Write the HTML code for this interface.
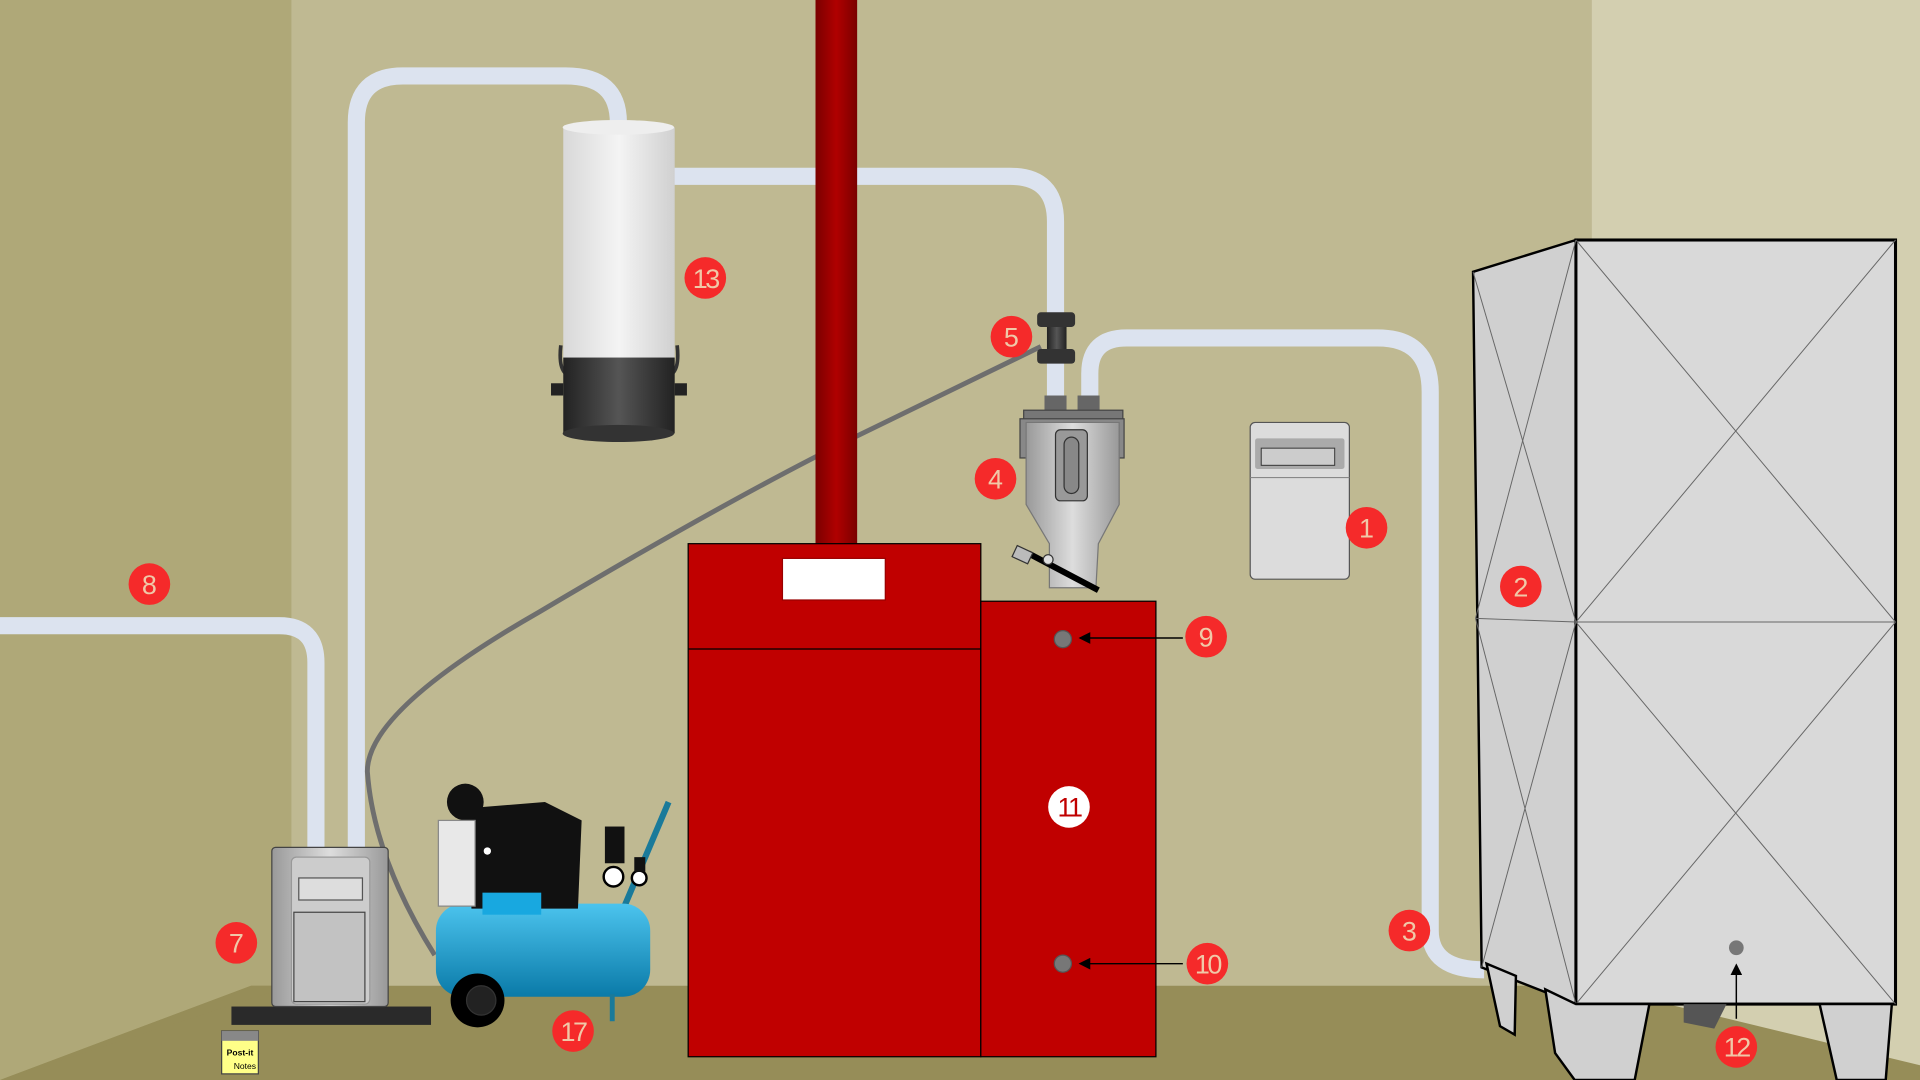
<!DOCTYPE html>
<html><head><meta charset="utf-8"><style>
html,body{margin:0;padding:0;width:1920px;height:1080px;overflow:hidden;background:#bfb992}
svg{display:block}
text{font-family:"Liberation Sans",sans-serif}
</style></head><body>
<svg width="1920" height="1080" viewBox="0 0 1568 882" xmlns="http://www.w3.org/2000/svg">
<defs>
<linearGradient id="chim" x1="0" x2="1"><stop offset="0" stop-color="#7a0000"/><stop offset=".5" stop-color="#b00000"/><stop offset="1" stop-color="#7a0000"/></linearGradient>
<linearGradient id="cyl" x1="0" x2="1"><stop offset="0" stop-color="#d8d8d8"/><stop offset=".5" stop-color="#f4f4f4"/><stop offset="1" stop-color="#d0d0d0"/></linearGradient>
<linearGradient id="blk" x1="0" x2="1"><stop offset="0" stop-color="#222"/><stop offset=".5" stop-color="#555"/><stop offset="1" stop-color="#222"/></linearGradient>
<linearGradient id="met" x1="0" x2="1"><stop offset="0" stop-color="#999"/><stop offset=".5" stop-color="#ddd"/><stop offset="1" stop-color="#999"/></linearGradient>
<linearGradient id="tank" x1="0" y1="0" x2="0" y2="1"><stop offset="0" stop-color="#4cc4ee"/><stop offset="1" stop-color="#0a7aa8"/></linearGradient>
<marker id="ar" markerWidth="8" markerHeight="8" refX="7" refY="4" orient="auto"><path d="M0,0 L8,4 L0,8z" fill="#000"/></marker>
</defs>
<!-- walls -->
<rect width="1568" height="882" fill="#bfb992"/>
<rect x="0" y="0" width="238" height="882" fill="#afa878"/>
<rect x="1300" y="0" width="268" height="882" fill="#d3cfb0"/>
<polygon points="0,882 205,805 1300,805 1568,870 1568,882" fill="#968d58"/>
<polygon points="0,882 0,882 205,805 238,805" fill="#968d58"/>
<!-- pipes -->
<g fill="none" stroke="#dce3ef" stroke-width="14">
<path d="M0,511 H228 Q258,511 258,541 V692"/>
<path d="M291,692 V100 Q291,62 329,62 H462 Q505,62 505,100"/>
<path d="M550,144 H825 Q862,144 862,181 V330"/>
<path d="M890,330 V305 Q890,276 920,276 H1125 Q1168,276 1168,320 V760 Q1168,792 1212,792"/>
</g>
<!-- gray cable -->
<path d="M850,283 L700,356 Q600,405 440,500 Q300,580 300,630 Q305,700 355,780" fill="none" stroke="#6e6e6e" stroke-width="4"/>
<!-- chimney -->
<rect x="666" y="0" width="34" height="446" fill="url(#chim)"/>
<!-- boiler -->
<rect x="562" y="444" width="239" height="419" fill="#c00000" stroke="#000" stroke-width="1"/>
<line x1="562" y1="530" x2="801" y2="530" stroke="#000"/>
<rect x="639" y="456" width="84" height="34" fill="#fff" stroke="#900"/>
<rect x="801" y="491" width="143" height="372" fill="#c00000" stroke="#000" stroke-width="1"/>
<circle cx="868" cy="522" r="7" fill="#777" stroke="#555"/>
<circle cx="868" cy="787" r="7" fill="#777" stroke="#555"/>
<line x1="966" y1="521" x2="882" y2="521" stroke="#000" stroke-width="1.2" marker-end="url(#ar)"/>
<line x1="966" y1="787" x2="882" y2="787" stroke="#000" stroke-width="1.2" marker-end="url(#ar)"/>
<!-- cyclone 13 -->
<rect x="460" y="104" width="91" height="190" fill="url(#cyl)"/>
<ellipse cx="505" cy="104" rx="45.5" ry="6" fill="#eee"/>
<path d="M458,282 Q456,300 462,305 M553,282 Q555,300 549,305" stroke="#333" stroke-width="3" fill="none"/>
<rect x="460" y="292" width="91" height="62" fill="url(#blk)"/>
<ellipse cx="505" cy="354" rx="45.5" ry="7" fill="#333"/>
<rect x="450" y="313" width="10" height="10" fill="#222"/><rect x="551" y="313" width="10" height="10" fill="#222"/>
<!-- 5 coupling -->
<rect x="855" y="262" width="16" height="28" fill="url(#blk)"/>
<rect x="847" y="255" width="31" height="12" rx="3" fill="#333"/>
<rect x="847" y="285" width="31" height="12" rx="3" fill="#333"/>
<!-- hopper 4 -->
<rect x="853" y="323" width="18" height="12" fill="#666"/><rect x="880" y="323" width="18" height="12" fill="#666"/>
<rect x="836" y="335" width="81" height="10" fill="#777" stroke="#444"/>
<rect x="833" y="342" width="85" height="32" fill="#888" stroke="#444"/>
<polygon points="838,345 914,345 914,412 897,444 895,480 857,480 857,444 838,412" fill="url(#met)" stroke="#777"/>
<rect x="862" y="351" width="26" height="58" rx="4" fill="#999" stroke="#333"/>
<rect x="869" y="357" width="12" height="46" rx="6" fill="#888" stroke="#333"/>
<line x1="840" y1="452" x2="897" y2="482" stroke="#000" stroke-width="5"/>
<rect x="828" y="448" width="14" height="10" fill="#bbb" stroke="#333" transform="rotate(25 835 453)"/>
<circle cx="856" cy="457" r="4" fill="#ddd" stroke="#333"/>
<!-- control box 1 -->
<rect x="1021" y="345" width="81" height="128" rx="4" fill="#dcdcdc" stroke="#555"/>
<rect x="1025" y="358" width="73" height="25" rx="2" fill="#aaa"/>
<rect x="1030" y="366" width="60" height="14" fill="#ccc" stroke="#333" stroke-width=".8"/>
<line x1="1021" y1="390" x2="1102" y2="390" stroke="#888"/>
<!-- cabinet 2 -->
<polygon points="1203,222 1287,196 1287,820 1210,790" fill="#d0d0d0" stroke="#000" stroke-width="2"/>
<rect x="1287" y="196" width="261" height="624" fill="#d9d9d9" stroke="#000" stroke-width="2.5"/>
<g stroke="#666" stroke-width=".8">
<line x1="1287" y1="196" x2="1548" y2="508"/><line x1="1548" y1="196" x2="1287" y2="508"/>
<line x1="1287" y1="508" x2="1548" y2="820"/><line x1="1548" y1="508" x2="1287" y2="820"/>
<line x1="1287" y1="508" x2="1548" y2="508"/><line x1="1205" y1="505" x2="1287" y2="508"/>
<line x1="1203" y1="222" x2="1287" y2="508"/><line x1="1287" y1="196" x2="1205" y2="505"/>
<line x1="1205" y1="505" x2="1287" y2="820"/><line x1="1287" y1="508" x2="1210" y2="790"/>
</g>
<g fill="#d0d0d0" stroke="#000" stroke-width="2">
<polygon points="1214,787 1238,797 1237,845 1225,838"/>
<polygon points="1262,808 1287,820 1347,820 1335,882 1286,882 1270,860"/>
<polygon points="1486,820 1545,820 1540,882 1500,882"/>
</g>
<polygon points="1375,820 1410,820 1400,840 1375,835" fill="#555"/>
<circle cx="1418" cy="774" r="6" fill="#777"/>
<line x1="1418" y1="832" x2="1418" y2="788" stroke="#000" stroke-width="1.2" marker-end="url(#ar)"/>
<!-- vacuum unit 7 -->
<rect x="189" y="822" width="163" height="15" fill="#2a2a2a"/>
<rect x="222" y="692" width="95" height="130" rx="3" fill="url(#met)" stroke="#444"/>
<rect x="238" y="700" width="64" height="120" rx="4" fill="#ccc" stroke="#999"/>
<rect x="244" y="717" width="52" height="18" fill="#ddd" stroke="#555"/>
<rect x="240" y="745" width="58" height="73" fill="#c2c2c2" stroke="#444"/>
<!-- post-it -->
<rect x="181" y="842" width="30" height="35" fill="#ffff88" stroke="#444"/>
<rect x="181" y="842" width="30" height="8" fill="#888"/>
<text x="196" y="862" font-size="7" font-weight="bold" text-anchor="middle">Post-it</text>
<text x="200" y="873" font-size="7" text-anchor="middle" font-family="Liberation Serif">Notes</text>
<!-- compressor 17 -->
<line x1="510" y1="740" x2="546" y2="655" stroke="#1a7a9a" stroke-width="5"/>
<rect x="356" y="738" width="175" height="76" rx="22" fill="url(#tank)"/>
<line x1="500" y1="812" x2="500" y2="834" stroke="#1a7a9a" stroke-width="4"/>
<circle cx="390" cy="817" r="22" fill="#000"/><circle cx="393" cy="817" r="12" fill="#222" stroke="#333"/>
<polygon points="383,660 445,655 475,670 472,742 385,742" fill="#111"/>
<circle cx="380" cy="655" r="15" fill="#111"/>
<rect x="358" y="670" width="30" height="70" fill="#e8e8e8" stroke="#888"/>
<rect x="394" y="729" width="48" height="18" fill="#18a8e0"/>
<circle cx="398" cy="695" r="3" fill="#fff"/>
<rect x="494" y="675" width="16" height="30" fill="#111"/>
<circle cx="501" cy="716" r="8" fill="#fff" stroke="#000" stroke-width="2"/>
<circle cx="522" cy="717" r="6" fill="#fff" stroke="#000" stroke-width="2"/>
<rect x="518" y="700" width="9" height="12" fill="#111"/>
<!-- labels -->
<g fill="#f52a2a">
<circle cx="1116" cy="431" r="17"/><circle cx="1242" cy="479" r="17"/><circle cx="1151" cy="760" r="17"/>
<circle cx="813" cy="391" r="17"/><circle cx="826" cy="275" r="17"/><circle cx="193" cy="770" r="17"/>
<circle cx="122" cy="477" r="17"/><circle cx="985" cy="520" r="17"/><circle cx="986" cy="787" r="17"/>
<circle cx="1418" cy="855" r="17"/><circle cx="576" cy="227" r="17"/><circle cx="468" cy="842" r="17"/>
</g>
<circle cx="873" cy="659" r="17" fill="#fff"/>
<g fill="#f0c8a8" font-size="22" text-anchor="middle">
<text x="1116" y="439">1</text><text x="1242" y="487">2</text><text x="1151" y="768">3</text>
<text x="813" y="399">4</text><text x="826" y="283">5</text><text x="193" y="778">7</text>
<text x="122" y="485">8</text><text x="985" y="528">9</text><text x="986" y="795" letter-spacing="-2">10</text>
<text x="1418" y="863" letter-spacing="-2">12</text><text x="576" y="235" letter-spacing="-2">13</text><text x="468" y="850" letter-spacing="-2">17</text>
<text x="873" y="667" fill="#c00000" letter-spacing="-2">11</text>
</g>
</svg>
</body></html>
